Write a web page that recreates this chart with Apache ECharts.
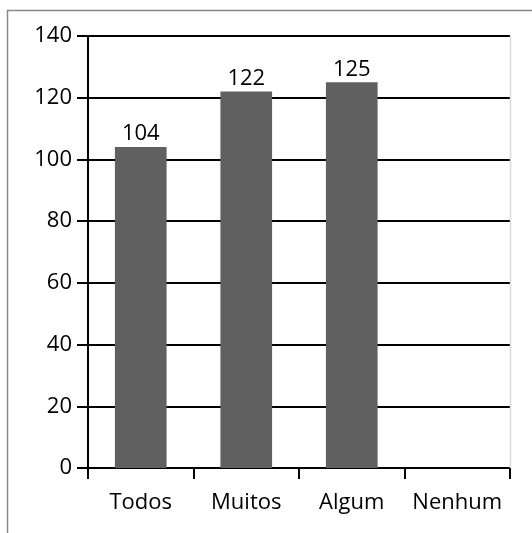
<!DOCTYPE html>
<html>
<head>
<meta charset="utf-8">
<script src="https://cdn.jsdelivr.net/npm/echarts@6/dist/echarts.min.js"></script>
<style>
html,body{margin:0;padding:0;background:#fff;}
#c{width:532px;height:533px;}
</style>
</head>
<body>
<div id="c"></div>
<script>
const categories = ["Todos", "Muitos", "Algum", "Nenhum"];
const values = [104, 122, 125, 0];
const yTicks = [0, 20, 40, 60, 80, 100, 120, 140];

const FONT = "Open Sans";
const FS = 22;
const chart = echarts.init(document.getElementById('c'), null, {renderer: 'canvas'});
chart.setOption({
  animation: false,
  backgroundColor: '#fff',
  textStyle: {fontFamily: FONT},
  graphic: [
    {type: 'rect', shape: {x: 7.5, y: 10.5, width: 700, height: 700}, style: {fill: 'none', stroke: '#8a8a8a', lineWidth: 1.5}, z: 0},
    {type: 'line', shape: {x1: 510.5, y1: 36, x2: 510.5, y2: 468}, style: {stroke: '#dcdcdc', lineWidth: 1.5}, z: 1}
  ],
  grid: {left: 88, right: 22, top: 36, bottom: 65, containLabel: false},
  xAxis: {
    type: 'category',
    data: categories,
    boundaryGap: true,
    axisLine: {lineStyle: {color: '#000', width: 2}},
    axisTick: {show: true, length: 11, inside: false, alignWithLabel: false, lineStyle: {color: '#000', width: 2}},
    axisLabel: {color: '#000', fontSize: FS, fontFamily: FONT, margin: 24, interval: 0}
  },
  yAxis: {
    type: 'value',
    min: yTicks[0],
    max: yTicks[yTicks.length - 1],
    interval: yTicks[1] - yTicks[0],
    axisLine: {show: true, lineStyle: {color: '#000', width: 2}},
    axisTick: {show: true, length: 11, lineStyle: {color: '#000', width: 2}},
    axisLabel: {color: '#000', fontSize: FS, fontFamily: FONT, margin: 16},
    splitLine: {show: true, lineStyle: {color: '#000', width: 2}}
  },
  series: [{
    type: 'bar',
    data: values,
    barWidth: '49%',
    itemStyle: {color: '#606060'},
    label: {
      show: true,
      position: 'top',
      distance: 2,
      color: '#000',
      fontSize: FS,
      fontFamily: FONT,
      formatter: p => p.value === 0 ? '' : String(p.value)
    },
    z: 3
  }]
});
</script>
</body>
</html>
